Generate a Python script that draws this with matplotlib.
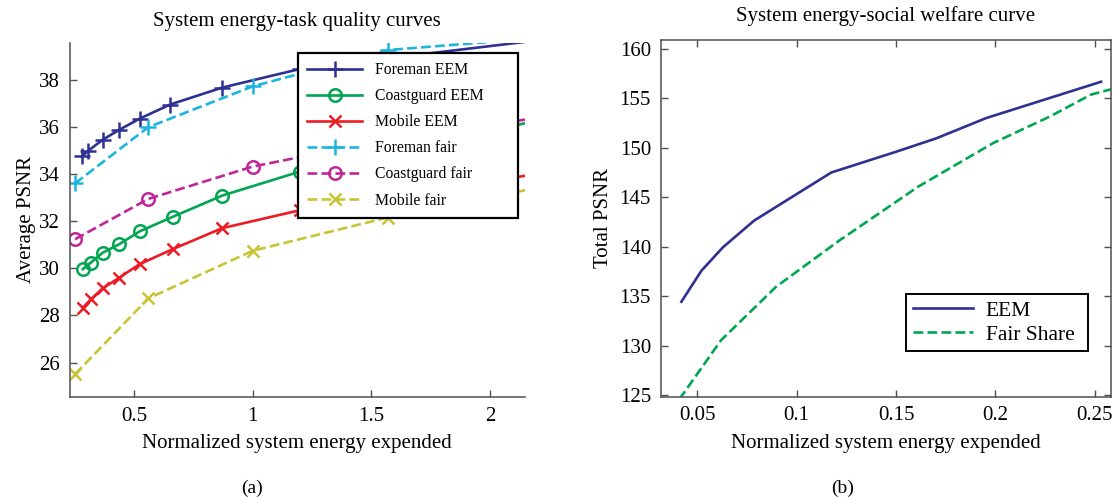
import matplotlib
matplotlib.use("Agg")
import matplotlib.pyplot as plt
from matplotlib.ticker import FixedLocator, FixedFormatter

plt.rcParams["font.family"] = ["Liberation Serif", "DejaVu Serif"]
plt.rcParams["mathtext.fontset"] = "stix"

# ===== (a) energy vs task quality =====
foreman_eem_x = [0.280, 0.308, 0.368, 0.438, 0.523, 0.652, 0.872, 1.20, 2.20]
foreman_eem_y = [34.74, 34.99, 35.45, 35.87, 36.34, 36.94, 37.66, 38.45, 39.66]
coast_eem_x = [0.284, 0.318, 0.368, 0.438, 0.523, 0.663, 0.872, 1.20, 2.20]
coast_eem_y = [29.96, 30.24, 30.66, 31.02, 31.56, 32.18, 33.08, 34.10, 36.26]
mobile_eem_x = [0.284, 0.318, 0.368, 0.438, 0.523, 0.663, 0.872, 1.20, 2.20]
mobile_eem_y = [28.32, 28.68, 29.15, 29.60, 30.17, 30.81, 31.70, 32.46, 34.00]

fair_x = [0.2516, 0.560, 1.000, 1.569, 2.27]
foreman_fair_y = [33.60, 35.98, 37.71, 39.25, 39.81]
coast_fair_y = [31.23, 32.94, 34.31, 35.45, 36.48]
mobile_fair_y = [25.51, 28.72, 30.74, 32.15, 33.55]

# ===== (b) energy vs social welfare =====
eem_x = [0.0420, 0.0521, 0.0629, 0.0786, 0.1174, 0.1505, 0.1702, 0.1953, 0.2531]
eem_y = [134.45, 137.59, 139.95, 142.65, 147.51, 149.64, 150.96, 153.01, 156.68]
fairshare_x = [0.0410, 0.0620, 0.0897, 0.1219, 0.1613, 0.1988, 0.2275, 0.2480, 0.2606]
fairshare_y = [124.60, 130.57, 135.97, 140.70, 146.10, 150.48, 153.18, 155.38, 156.05]

navy = "#2E3192"
green = "#00A651"
red = "#ED1C24"
cyan = "#1CB5E0"
magenta = "#C0269A"
olive = "#C8C434"
spine_c = "#505050"

fig = plt.figure(figsize=(11.14, 4.97), dpi=100)
ax1 = fig.add_axes([0.0624, 0.2012, 0.4089, 0.7123])
ax2 = fig.add_axes([0.5931, 0.2018, 0.4042, 0.7177])

lw = 1.9
mk = dict(markersize=11, markeredgewidth=1.8, markerfacecolor="none")
ax1.plot(foreman_eem_x, foreman_eem_y, "-", color=navy, lw=lw, marker="+", label="Foreman EEM", **mk)
ax1.plot(coast_eem_x, coast_eem_y, "-", color=green, lw=lw, marker="o", label="Coastguard EEM",
         markersize=9, markeredgewidth=1.8, markerfacecolor="none")
ax1.plot(mobile_eem_x, mobile_eem_y, "-", color=red, lw=lw, marker="x", label="Mobile EEM",
         markersize=9, markeredgewidth=1.8)
ax1.plot(fair_x, foreman_fair_y, "--", color=cyan, lw=lw, marker="+", label="Foreman fair", **mk)
ax1.plot(fair_x, coast_fair_y, "--", color=magenta, lw=lw, marker="o", label="Coastguard fair",
         markersize=9, markeredgewidth=1.8, markerfacecolor="none")
ax1.plot(fair_x, mobile_fair_y, "--", color=olive, lw=lw, marker="x", label="Mobile fair",
         markersize=9, markeredgewidth=1.8)

ax1.set_xlim(0.228, 2.148)
ax1.set_ylim(24.54, 39.55)
ax1.xaxis.set_major_locator(FixedLocator([0.5, 1, 1.5, 2]))
ax1.xaxis.set_major_formatter(FixedFormatter(["0.5", "1", "1.5", "2"]))
ax1.set_yticks([26, 28, 30, 32, 34, 36, 38])
for s in ["top", "right"]:
    ax1.spines[s].set_visible(False)
ax1.set_title("System energy-task quality curves", fontsize=15, pad=12)
ax1.set_xlabel("Normalized system energy expended", fontsize=15, labelpad=6)
ax1.set_ylabel("Average PSNR", fontsize=15, labelpad=2)
leg1 = ax1.legend(loc="upper left", bbox_to_anchor=(0.501, 0.511, 0.483, 0.461), mode="expand",
                  fontsize=11.3, handlelength=3.5, labelspacing=0.64, borderpad=0.6,
                  fancybox=False, framealpha=1, edgecolor="black", borderaxespad=0)
leg1.get_frame().set_linewidth(1.6)

ax2.plot(eem_x, eem_y, "-", color=navy, lw=lw, label="EEM")
ax2.plot(fairshare_x, fairshare_y, "--", color=green, lw=lw, label="Fair Share")
ax2.set_xlim(0.0316, 0.2581)
ax2.set_ylim(124.85, 160.9)
ax2.xaxis.set_major_locator(FixedLocator([0.05, 0.1, 0.15, 0.2, 0.25]))
ax2.xaxis.set_major_formatter(FixedFormatter(["0.05", "0.1", "0.15", "0.2", "0.25"]))
ax2.set_yticks([125, 130, 135, 140, 145, 150, 155, 160])
ax2.tick_params(top=True, right=True)
ax2.set_title("System energy-social welfare curve", fontsize=15, pad=13.5)
ax2.set_xlabel("Normalized system energy expended", fontsize=15, labelpad=6)
ax2.set_ylabel("Total PSNR", fontsize=15, labelpad=5)
leg2 = ax2.legend(loc="lower left", bbox_to_anchor=(0.545, 0.127, 0.405, 0.17), mode="expand",
                  fontsize=15.5, handlelength=2.8, handletextpad=0.6, labelspacing=0.2,
                  borderpad=0.3, fancybox=False, framealpha=1, edgecolor="black",
                  borderaxespad=0)
leg2.get_frame().set_linewidth(1.4)

for ax in (ax1, ax2):
    ax.tick_params(direction="in", length=5, width=1, labelsize=15, pad=7, color=spine_c)
    for s in ax.spines.values():
        s.set_color(spine_c)
        s.set_linewidth(1.1)

fig.text(0.2266, 0.008, "(a)", fontsize=14, ha="center")
fig.text(0.7567, 0.008, "(b)", fontsize=14, ha="center")

fig.savefig("out.png", dpi=100)
